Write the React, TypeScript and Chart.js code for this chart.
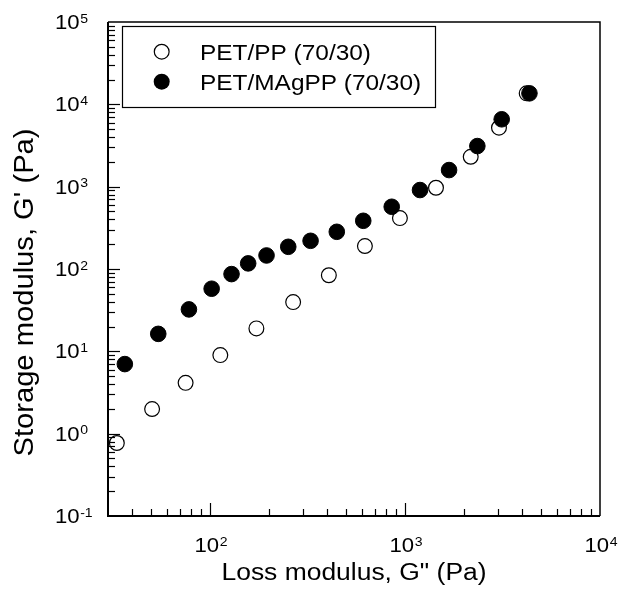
import React, { useEffect, useRef } from "react";
import { Chart, registerables } from "chart.js";

Chart.register(...registerables);

// PET/PP (70/30) — open circles
const ppLoss = [33.3, 50.5, 75, 113, 173, 267, 407, 623, 942, 1442, 2173, 3034, 4207];
const ppStorage = [0.77, 1.99, 4.14, 9.0, 19, 39.6, 84, 190, 415, 970, 2306, 5200, 13600];

// PET/MAgPP (70/30) — filled circles
const magLoss = [36.6, 54.3, 78, 102, 129, 157, 195, 252, 328, 447, 611, 855, 1194, 1683, 2350, 3133, 4347];
const magStorage = [7.0, 16.3, 32.3, 57.6, 86.7, 117, 146, 186, 220, 283, 385, 570, 910, 1591, 3113, 6580, 13600];

const seriesNames = ["PET/PP (70/30)", "PET/MAgPP (70/30)"];
const xTitle = 'Loss modulus, G" (Pa)';
const yTitle = "Storage modulus, G' (Pa)";
const xExponents = [2, 3, 4];
const yExponents = [-1, 0, 1, 2, 3, 4, 5];
const xMin = 30;
const xMax = 10000;
const yMin = 0.1;
const yMax = 100000;

const FONT = '"Liberation Sans", Arial, Helvetica, sans-serif';

function stretchedText(ctx: CanvasRenderingContext2D, text: string, x: number, y: number, size: number, sx: number, align: "left" | "center" | "right") {
  ctx.save();
  ctx.font = `${size}px ${FONT}`;
  const w = ctx.measureText(text).width * sx;
  let left = x;
  if (align === "center") left = x - w / 2;
  if (align === "right") left = x - w;
  ctx.translate(left, y);
  ctx.scale(sx, 1);
  ctx.textAlign = "left";
  ctx.textBaseline = "alphabetic";
  ctx.fillText(text, 0, 0);
  ctx.restore();
  return w;
}

const BASE_SIZE = 20.5;
const BASE_SX = 1.08;
const SUP_SIZE = 13;
const SUP_SX = 1.08;

function expText(exp: number) {
  return exp < 0 ? "-" + Math.abs(exp) : String(exp);
}

function powWidth(ctx: CanvasRenderingContext2D, exp: number) {
  ctx.save();
  ctx.font = `${BASE_SIZE}px ${FONT}`;
  const a = ctx.measureText("10").width * BASE_SX;
  ctx.font = `${SUP_SIZE}px ${FONT}`;
  const b = ctx.measureText(expText(exp)).width * SUP_SX;
  ctx.restore();
  return a + 0.5 + b;
}

function drawPow(ctx: CanvasRenderingContext2D, exp: number, left: number, baseline: number) {
  const w = stretchedText(ctx, "10", left, baseline, BASE_SIZE, BASE_SX, "left");
  stretchedText(ctx, expText(exp), left + w + 0.5, baseline - 6.5, SUP_SIZE, SUP_SX, "left");
}

const decorPlugin = {
  id: "decor",
  afterDraw(chart: any) {
    const ctx: CanvasRenderingContext2D = chart.ctx;
    const { left, right, top, bottom } = chart.chartArea;
    const xs = chart.scales.x;
    const ys = chart.scales.y;
    ctx.save();
    ctx.fillStyle = "#000";
    ctx.strokeStyle = "#000";

    // frame
    ctx.lineWidth = 1.5;
    ctx.beginPath();
    ctx.moveTo(left, top);
    ctx.lineTo(right, top);
    ctx.lineTo(right, bottom);
    ctx.stroke();
    ctx.lineWidth = 2;
    ctx.beginPath();
    ctx.moveTo(left, top);
    ctx.lineTo(left, bottom);
    ctx.lineTo(right, bottom);
    ctx.stroke();

    // ticks
    ctx.lineWidth = 1.2;
    for (let e = 1; e <= 4; e++) {
      for (let m = 1; m <= 9; m++) {
        const v = m * Math.pow(10, e);
        if (v <= xMin || v >= xMax) continue;
        const px = Math.round(xs.getPixelForValue(v)) + 0.5;
        const len = m === 1 ? 13 : 7;
        ctx.beginPath();
        ctx.moveTo(px, bottom);
        ctx.lineTo(px, bottom - len);
        ctx.stroke();
      }
    }
    for (let e = -1; e <= 4; e++) {
      for (let m = 1; m <= 9; m++) {
        const v = m * Math.pow(10, e);
        if (v <= yMin || v >= yMax) continue;
        const py = Math.round(ys.getPixelForValue(v)) + 0.5;
        const len = m === 1 ? 12 : 7;
        ctx.beginPath();
        ctx.moveTo(left, py);
        ctx.lineTo(left + len, py);
        ctx.stroke();
      }
    }

    // tick labels
    for (const e of xExponents) {
      const px = xs.getPixelForValue(Math.pow(10, e));
      const w = powWidth(ctx, e);
      drawPow(ctx, e, px - w / 2 + 1, bottom + 36);
    }
    for (const e of yExponents) {
      const py = ys.getPixelForValue(Math.pow(10, e));
      drawPow(ctx, e, 55, py + 7);
    }

    // axis titles
    stretchedText(ctx, xTitle, (left + right) / 2, bottom + 64, 23.5, 1.125, "center");
    ctx.save();
    ctx.translate(33, (top + bottom) / 2 + 23.5);
    ctx.rotate(-Math.PI / 2);
    stretchedText(ctx, yTitle, 0, 0, 27, 1.08, "center");
    ctx.restore();

    // legend
    const lx = 122, ly = 26, lw = 313, lh = 81;
    ctx.fillStyle = "#fff";
    ctx.fillRect(lx, ly, lw, lh);
    ctx.strokeStyle = "#000";
    ctx.lineWidth = 1.2;
    ctx.strokeRect(lx + 0.5, ly + 0.5, lw, lh);
    ctx.beginPath();
    ctx.arc(161.7, 51.7, 7.4, 0, Math.PI * 2);
    ctx.fillStyle = "#fff";
    ctx.fill();
    ctx.lineWidth = 1.2;
    ctx.stroke();
    ctx.beginPath();
    ctx.arc(161.7, 81.7, 8, 0, Math.PI * 2);
    ctx.fillStyle = "#000";
    ctx.fill();
    ctx.fillStyle = "#000";
    stretchedText(ctx, seriesNames[0], 200, 60, 22.5, 1.085, "left");
    stretchedText(ctx, seriesNames[1], 200, 90, 22.5, 1.085, "left");

    ctx.restore();
  },
};

export default function App() {
  const ref = useRef<HTMLCanvasElement | null>(null);
  useEffect(() => {
    document.body.style.margin = "0";
    if (!ref.current) return;
    const chart = new Chart(ref.current, {
      type: "scatter",
      data: {
        datasets: [
          {
            label: seriesNames[0],
            data: ppLoss.map((x, i) => ({ x, y: ppStorage[i] })),
            pointRadius: 7.4,
            pointBorderWidth: 1.2,
            pointBackgroundColor: "#fff",
            pointBorderColor: "#000",
            order: 2,
          },
          {
            label: seriesNames[1],
            data: magLoss.map((x, i) => ({ x, y: magStorage[i] })),
            pointRadius: 7.8,
            pointBorderWidth: 1,
            pointBackgroundColor: "#000",
            pointBorderColor: "#000",
            order: 1,
          },
        ],
      },
      options: {
        responsive: false,
        animation: false,
        devicePixelRatio: 1,
        layout: { padding: { left: 108, top: 22, right: 22, bottom: 85 }, autoPadding: false },
        plugins: { legend: { display: false }, tooltip: { enabled: false } },
        scales: {
          x: { type: "logarithmic", min: xMin, max: xMax, display: false },
          y: { type: "logarithmic", min: yMin, max: yMax, display: false },
        },
      } as any,
      plugins: [decorPlugin],
    });
    return () => chart.destroy();
  }, []);
  return (
    <div style={{ width: 622, height: 601 }}>
      <canvas ref={ref} width={622} height={601} style={{ display: "block" }} />
    </div>
  );
}
